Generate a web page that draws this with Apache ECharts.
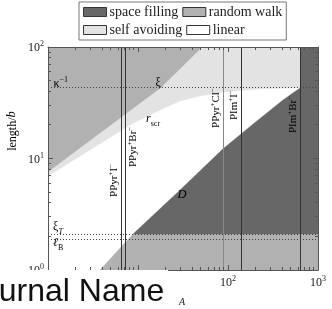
<!DOCTYPE html>
<html><head><meta charset="utf-8">
<script src="https://cdn.jsdelivr.net/npm/echarts@6/dist/echarts.min.js"></script>
<style>html,body{margin:0;padding:0;background:#fff}#c{width:332px;height:309px}</style>
</head><body><div id="c"></div>
<script>
// ---------------- data ----------------
const xRange = [1, 1000];
const yRange = [1, 100];
const xTickValues = [1, 10, 100, 1000];
const xTickExps = ['0', '1', '2', '3'];
const yTickValues = [1, 10, 100];
const yTickExps = ['0', '1', '2'];
const xMinorTicks = [2,3,4,5,6,7,8,9,20,30,40,50,60,70,80,90,200,300,400,500,600,700,800,900];
const yMinorTicks = [2,3,4,5,6,7,8,9,20,30,40,50,60,70,80,90];
const kappaInv = 43.3;   // κ^-1
const xiT = 2.10;        // ξ_T
const ellB = 1.86;       // ℓ_B
const xiCurve = [[1, 7.6], [18, 43.3], [51.4, 100]];
const rscrCurve = [[1, 6.97], [2.93, 11.9], [8.15, 20.0], [17.6, 27.2], [29.3, 32.8], [48.9, 36.4], [90.3, 39.5], [227, 42.0], [642, 43.0]];
const dCurve = [[3.78, 1], [8.8, 2.10], [29.3, 5.22], [88, 12.2], [190, 20.4], [408, 33.5], [642, 43.3]];
const saltCation = ['PPyr', 'PPyr', 'PPyr', 'PIm', 'PIm'];
const saltAnion = ['I', 'Br', 'Cl', 'I', 'Br'];
const saltX = [6.6, 7.2, 90, 142, 642];
const saltLabelY = [4.52, 8.39, 18.8, 22.1, 16.9];
const regionNames = ['space filling', 'random walk', 'self avoiding', 'linear'];

// ---------------- styles ----------------
const FONT = 'Liberation Serif';
const INK = '#222';
const colDark = '#676767', colMid = '#b1b1b1', colLight = '#e3e3e3', colWhite = '#ffffff';
const saltSide = ['left', 'right', 'left', 'left', 'left'];
const saltColor = ['#333', '#333', '#888', '#333', '#333'];

const rich = {
  m:   {fontFamily: FONT, fontSize: 12, verticalAlign: 'bottom', color: INK},
  i:   {fontFamily: FONT, fontSize: 12.5, fontStyle: 'italic', verticalAlign: 'bottom', color: INK},
  mb:  {fontFamily: FONT, fontSize: 12, verticalAlign: 'bottom', padding: [0, 0, 3, 0], color: INK},
  ib:  {fontFamily: FONT, fontSize: 12, fontStyle: 'italic', verticalAlign: 'bottom', padding: [0, 0, 3, 0], color: INK},
  sup: {fontFamily: FONT, fontSize: 8, verticalAlign: 'bottom', padding: [0, 0, 6, 0], color: INK},
  sub: {fontFamily: FONT, fontSize: 8, verticalAlign: 'bottom', color: INK},
  subi:{fontFamily: FONT, fontSize: 8, fontStyle: 'italic', verticalAlign: 'bottom', color: INK},
  n:   {fontFamily: FONT, fontSize: 11, verticalAlign: 'bottom', color: INK},
  p:   {fontFamily: FONT, fontSize: 7, verticalAlign: 'bottom', padding: [0, 0, 5, 0], color: INK}
};

// polygons built from the curves
const linearPoly = [[xRange[0], yRange[0]]].concat(rscrCurve, dCurve.slice().reverse());
const selfAvoidPoly = rscrCurve.concat([[saltX[4], yRange[1]], [xRange[0], yRange[1]]]);
const randomWalkPolys = [
  xiCurve.concat([[xRange[0], yRange[1]]]),
  dCurve.slice(0, 2).concat([[xRange[1], xiT], [xRange[1], yRange[0]]])
];
const spaceFillPoly = dCurve.slice(1).concat([[saltX[4], yRange[1]], [xRange[1], yRange[1]], [xRange[1], xiT]]);

function polySeries(name, color, polys, z) {
  return {
    type: 'custom', name: name, coordinateSystem: 'cartesian2d', xAxisIndex: 0, yAxisIndex: 0,
    data: [polys[0][0]], itemStyle: {color: color}, clip: true, silent: true, z: z,
    renderItem: function (params, api) {
      return {type: 'group', children: polys.map(function (poly) {
        return {type: 'polygon', shape: {points: poly.map(function (p) { return api.coord(p); })},
                style: {fill: color, stroke: color, lineWidth: 0.3}};
      })};
    }
  };
}

const hLines = [kappaInv, xiT, ellB];

const annotations = [
  {text: '{m|κ}{sup|−1}', at: [1.15, kappaInv], dx: 0, dy: 2, align: 'left', va: 'bottom'},
  {text: '{m|ξ}', at: [15.6, kappaInv], dx: 0, dy: 1, align: 'left', va: 'bottom'},
  {text: '{ib|r}{sub|scr}', at: [14.7, 22.1], dx: 0, dy: 0, align: 'center', va: 'middle'},
  {text: '{i|D}', at: [30.8, 4.71], dx: 0, dy: 0, align: 'center', va: 'middle'},
  {text: '{mb|ξ}{subi|T}', at: [1.14, xiT], dx: 0, dy: 2, align: 'left', va: 'bottom'},
  {text: '{ib|ℓ}{sub|B}', at: [1.14, ellB], dx: 0, dy: -3, align: 'left', va: 'top'}
];

function crisp(v) { return Math.round(v - 0.5) + 0.5; }

const tickColor = '#555';

const option = {
  animation: false,
  grid: {left: 48, right: 14, top: 47, bottom: 39, outerBoundsMode: 'none'},
  legend: {
    left: 79, top: 2, width: 212, orient: 'horizontal',
    itemWidth: 23, itemHeight: 9, itemGap: 4,
    padding: [3, 4, 3, 4], borderColor: '#777', borderWidth: 1, backgroundColor: '#fff',
    textStyle: {fontFamily: FONT, fontSize: 14, color: INK, padding: [0, 0, 0, -2]},
    selectedMode: false,
    data: [
      {name: regionNames[0], icon: 'rect', itemStyle: {color: colDark, borderColor: '#333', borderWidth: 1}},
      {name: regionNames[1], icon: 'rect', itemStyle: {color: colMid, borderColor: '#333', borderWidth: 1}},
      {name: regionNames[2], icon: 'rect', itemStyle: {color: colLight, borderColor: '#333', borderWidth: 1}},
      {name: regionNames[3], icon: 'rect', itemStyle: {color: colWhite, borderColor: '#333', borderWidth: 1}}
    ]
  },
  xAxis: [
    {type: 'log', logBase: 10, min: xRange[0], max: xRange[1], position: 'bottom', z: 10,
     axisLine: {show: true, lineStyle: {color: tickColor, width: 1}},
     axisTick: {show: true, inside: true, length: 5, lineStyle: {color: tickColor}},
     splitLine: {show: false},
     axisLabel: {margin: 5, formatter: function (v) { const k = xTickValues.indexOf(v); return '{m|10}{sup|' + xTickExps[k] + '}'; }, rich: rich}},
    {type: 'log', logBase: 10, min: xRange[0], max: xRange[1], position: 'top', z: 10,
     axisLine: {show: true, lineStyle: {color: tickColor, width: 1}},
     axisTick: {show: true, inside: true, length: 5, lineStyle: {color: tickColor}},
     splitLine: {show: false}, axisLabel: {show: false}}
  ],
  yAxis: [
    {type: 'log', logBase: 10, min: yRange[0], max: yRange[1], position: 'left', z: 10,
     axisLine: {show: true, lineStyle: {color: tickColor, width: 1}},
     axisTick: {show: true, inside: true, length: 5, lineStyle: {color: tickColor}},
     splitLine: {show: false},
     axisLabel: {margin: 4, formatter: function (v) { const k = yTickValues.indexOf(v); return '{m|10}{sup|' + yTickExps[k] + '}'; }, rich: rich}},
    {type: 'log', logBase: 10, min: yRange[0], max: yRange[1], position: 'right', z: 10,
     axisLine: {show: true, lineStyle: {color: tickColor, width: 1}},
     axisTick: {show: true, inside: true, length: 5, lineStyle: {color: tickColor}},
     splitLine: {show: false}, axisLabel: {show: false}}
  ],
  series: [
    polySeries(regionNames[3], colWhite, [linearPoly], 1),
    polySeries(regionNames[2], colLight, [selfAvoidPoly], 2),
    polySeries(regionNames[1], colMid, randomWalkPolys, 3),
    polySeries(regionNames[0], colDark, [spaceFillPoly], 4),
    {
      type: 'custom', name: 'levels', data: hLines.map(function (y) { return [xRange[0], y]; }),
      silent: true, z: 6, clip: true,
      renderItem: function (params, api) {
        const y = api.value(1);
        const a = api.coord([xRange[0], y]), b = api.coord([xRange[1], y]);
        const yy = crisp(a[1]);
        return {type: 'line', shape: {x1: a[0], y1: yy, x2: b[0], y2: yy},
                style: {stroke: '#444', lineWidth: 1, lineDash: [1, 2]}};
      }
    },
    {
      type: 'custom', name: 'salts', data: saltX.map(function (x, i) { return [x, saltLabelY[i]]; }),
      silent: true, z: 7, clip: false,
      renderItem: function (params, api) {
        const i = params.dataIndex;
        const x = api.value(0), ly = api.value(1);
        const b = api.coord([x, yRange[0]]), t = api.coord([x, yRange[1]]), a = api.coord([x, ly]);
        const px = crisp(b[0]);
        const left = saltSide[i] === 'left';
        return {type: 'group', children: [
          {type: 'line', shape: {x1: px, y1: b[1], x2: px, y2: t[1]}, style: {stroke: saltColor[i], lineWidth: 1}},
          {type: 'text', x: left ? px - 1.5 : px + 1.5, y: a[1], rotation: Math.PI / 2,
           style: {text: '{n|' + saltCation[i] + '}{p|+}{n|' + saltAnion[i] + '}{p|−}', rich: rich,
                   align: 'left', verticalAlign: left ? 'bottom' : 'top'}}
        ]};
      }
    },
    {
      type: 'custom', name: 'notes', data: annotations.map(function (a) { return a.at; }),
      silent: true, z: 8, clip: false,
      renderItem: function (params, api) {
        const an = annotations[params.dataIndex];
        const c = api.coord(an.at);
        return {type: 'text', x: c[0] + an.dx, y: c[1] + an.dy,
                style: {text: an.text, rich: rich, align: an.align, verticalAlign: an.va}};
      }
    },
    {
      type: 'custom', name: 'xminor', data: xMinorTicks.map(function (v) { return [v, yRange[0]]; }),
      silent: true, z: 12, clip: false,
      renderItem: function (params, api) {
        const v = api.value(0);
        const b = api.coord([v, yRange[0]]), t = api.coord([v, yRange[1]]);
        const px = crisp(b[0]);
        return {type: 'group', children: [
          {type: 'line', shape: {x1: px, y1: b[1], x2: px, y2: b[1] - 3}, style: {stroke: tickColor, lineWidth: 1}},
          {type: 'line', shape: {x1: px, y1: t[1], x2: px, y2: t[1] + 3}, style: {stroke: tickColor, lineWidth: 1}}
        ]};
      }
    },
    {
      type: 'custom', name: 'yminor', data: yMinorTicks.map(function (v) { return [xRange[0], v]; }),
      silent: true, z: 12, clip: false,
      renderItem: function (params, api) {
        const v = api.value(1);
        const l = api.coord([xRange[0], v]), r = api.coord([xRange[1], v]);
        const py = crisp(l[1]);
        return {type: 'group', children: [
          {type: 'line', shape: {x1: l[0], y1: py, x2: l[0] + 3, y2: py}, style: {stroke: tickColor, lineWidth: 1}},
          {type: 'line', shape: {x1: r[0], y1: py, x2: r[0] - 3, y2: py}, style: {stroke: tickColor, lineWidth: 1}}
        ]};
      }
    }
  ],
  graphic: [
    {type: 'text', x: 12, y: 131, rotation: Math.PI / 2, z: 20,
     style: {text: '{m|length/}{i|b}', rich: rich, align: 'center', verticalAlign: 'middle'}},
    {type: 'text', x: 182, y: 302, z: 20,
     style: {text: 'A', fontFamily: FONT, fontStyle: 'italic', fontSize: 10, fill: INK, align: 'center', verticalAlign: 'middle'}},
    {type: 'rect', shape: {x: 0, y: 270, width: 168, height: 39}, style: {fill: '#fff'}, z: 50},
    {type: 'text', x: -35, y: 292, z: 51,
     style: {text: 'Journal Name', fontFamily: 'Liberation Sans', fontSize: 32, fill: '#111', align: 'left', verticalAlign: 'middle'}}
  ]
};

const chart = echarts.init(document.getElementById('c'), null, {renderer: 'canvas'});
chart.setOption(option);
</script>
</body></html>
